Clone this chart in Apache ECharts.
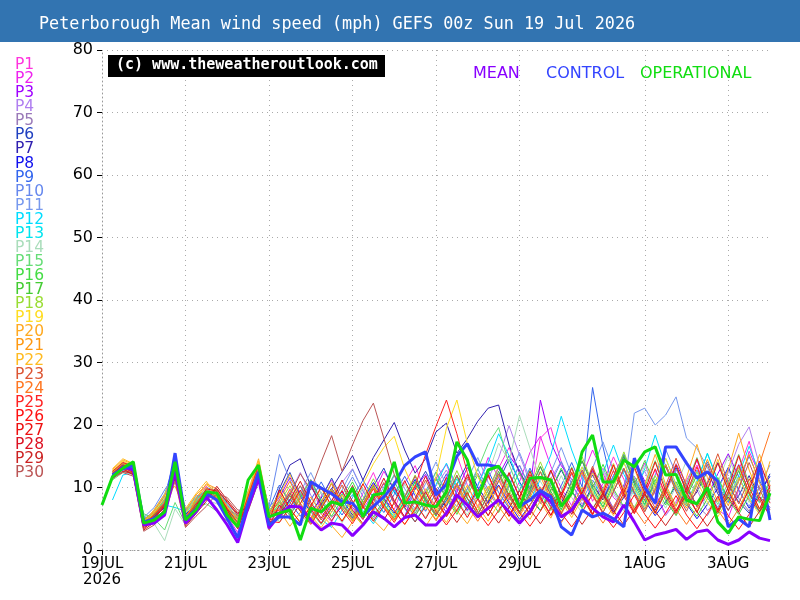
<!DOCTYPE html>
<html>

<head>
	<meta charset="UTF-8">
	<title>Peterborough Mean wind speed</title>
	<style>
		body {
			margin: 0;
		}
		#chart {
			width: 800px;
			height: 600px;
		}
	</style>
	<script src="https://cdn.jsdelivr.net/npm/echarts@6/dist/echarts.min.js"></script>
</head>

<body>
	<div id="chart"></div>
	<script>
		// 6-hourly steps from 19 Jul 00z, 65 steps (0..384h)
		var startDate = Date.UTC(2026, 6, 19, 0);
		var stepCount = 65;
		var monthNames = ['JAN', 'FEB', 'MAR', 'APR', 'MAY', 'JUN', 'JUL', 'AUG', 'SEP', 'OCT', 'NOV', 'DEC'];
		var times = [];
		for (var s = 0; s < stepCount; s++) {
			var d = new Date(startDate + s * 6 * 3600 * 1000);
			times.push(d.getUTCDate() + monthNames[d.getUTCMonth()] + ' ' + d.getUTCHours() + 'z');
		}

		// labelled ticks: [step index, label]
		var tickLabels = [
			[0, '19JUL\n2026'], [8, '21JUL'], [16, '23JUL'], [24, '25JUL'],
			[32, '27JUL'], [40, '29JUL'], [52, '1AUG'], [60, '3AUG']
		];

		var operational = [7.2, 11.7, 13.1, 14.1, 4.3, 4.8, 6.1, 14.1, 4.8, 6.4, 9.3, 9.1, 5.6, 3.7, 11.2, 13.6, 5.3,
			5.9, 6.4, 1.6, 6.7, 6.1, 7.7, 7.2, 9.9, 5.3, 8.8, 9.1, 14.1, 7.5, 7.7, 7.2, 6.9, 9.3, 17.3, 14.4, 8.3,
			12.8, 13.4, 10.9, 6.7, 11.5, 11.6, 11.2, 7.0, 9.1, 15.7, 18.4, 10.9, 10.9, 14.4, 13.3, 15.7, 16.5, 12.0,
			12.1, 8.0, 7.4, 10.0, 4.5, 2.7, 5.3, 4.9, 4.7, 9.1];

		var mean = [null, 11.7, 13.3, 12.8, 4.0, 4.3, 5.6, 12.6, 4.3, 6.1, 8.5, 6.4, 4.0, 1.2, 6.9, 11.5, 3.5,
			5.6, 7.0, 6.9, 4.8, 3.2, 4.3, 4.0, 2.3, 4.0, 6.1, 5.1, 3.7, 5.2, 5.6, 4.0, 4.0, 5.9, 8.8, 7.2, 5.3,
			6.7, 8.0, 6.1, 4.3, 6.1, 9.2, 7.7, 5.3, 6.4, 8.8, 6.7, 5.3, 4.5, 7.2, 4.5, 1.6, 2.4, 2.8, 3.3, 1.7,
			2.9, 3.2, 1.6, 0.9, 1.6, 2.9, 1.9, 1.5];

		var control = [null, 12.0, 13.0, 13.5, 4.5, 5.0, 6.0, 15.5, 5.0, 6.5, 9.0, 8.0, 5.0, 2.0, 7.5, 12.5, 4.0,
			5.3, 5.3, 4.0, 10.9, 9.9, 9.0, 7.7, 7.5, 5.5, 7.0, 8.5, 10.5, 13.5, 14.9, 15.7, 8.8, 10.5, 15.0, 17.0,
			13.6, 13.6, 13.3, 11.0, 7.0, 8.0, 9.5, 8.5, 3.7, 2.4, 6.4, 5.3, 5.9, 5.0, 3.7, 14.7, 10.0, 7.5, 16.5,
			16.5, 13.9, 11.5, 12.5, 11.0, 3.7, 5.0, 3.7, 13.9, 4.8];

		var P1 = [null, 12.5, 13.8, 13.2, 4.2, 5.5, 7.8, 13.4, 5.2, 7.4, 9.6, 8.1, 6.2, 3.4, 8.8, 12.9, 4.6,
			6.2, 9.8, 7.4, 5.1, 8.6, 11.2, 7.3, 5.4, 9.1, 12.4, 8.2, 6.5, 10.7, 13.5, 9.2, 7.1, 11.8, 15.2, 10.4, 6.8,
			9.5, 13.1, 16.4, 12.2, 8.7, 17.9, 19.6, 14.1, 9.3, 12.5, 7.8, 10.6, 14.9, 11.3, 6.4, 9.2, 12.8, 8.5, 5.7, 10.3,
			13.6, 9.4, 6.1, 8.8, 12.7, 17.4, 11.2, 7.6];
		var P2 = [null, 12.2, 14.0, 13.4, 4.0, 5.8, 8.2, 13.8, 4.9, 8.0, 10.2, 7.6, 5.4, 2.8, 9.2, 13.5, 5.8,
			7.9, 5.6, 8.3, 10.7, 6.2, 4.5, 7.8, 10.1, 6.6, 8.9, 12.6, 9.8, 7.2, 5.5, 8.1, 11.4, 13.7, 9.6, 6.3, 10.2,
			14.8, 11.5, 8.0, 10.9, 15.6, 18.2, 13.4, 9.9, 7.1, 11.8, 16.0, 12.3, 8.4, 6.9, 10.5, 13.9, 9.1, 5.8, 7.4, 11.1,
			14.3, 10.0, 6.5, 5.2, 9.6, 15.8, 12.0, 8.3];
		var P3 = [null, 11.8, 13.2, 12.6, 4.8, 5.2, 7.0, 12.4, 5.8, 7.2, 8.8, 9.2, 6.6, 4.4, 7.6, 12.8, 6.2,
			8.4, 11.6, 9.0, 6.1, 4.2, 7.5, 9.3, 6.8, 4.9, 8.2, 10.6, 7.7, 5.3, 9.9, 12.1, 8.6, 6.0, 9.4, 13.2, 10.1,
			7.4, 11.9, 15.1, 12.8, 9.2, 24.0, 17.2, 13.5, 11.3, 8.5, 12.7, 9.8, 6.6, 10.4, 14.6, 11.0, 7.3, 9.7, 13.8, 10.5,
			6.9, 8.6, 12.2, 15.4, 11.7, 8.0, 6.2, 9.5];
		var P4 = [null, 12.4, 13.6, 13.0, 4.4, 6.0, 8.0, 13.6, 5.0, 7.8, 9.8, 8.2, 5.8, 3.6, 8.2, 13.2, 5.0,
			6.5, 9.1, 12.4, 8.8, 5.7, 7.9, 10.8, 13.0, 9.5, 6.4, 8.7, 11.9, 8.3, 5.9, 7.6, 10.3, 12.8, 9.0, 6.2, 8.8,
			11.5, 14.7, 19.9, 15.2, 10.8, 8.1, 11.4, 14.2, 10.6, 7.3, 9.9, 13.1, 9.4, 6.7, 10.0, 12.6, 8.9, 5.5, 7.8, 11.2,
			9.6, 6.3, 8.1, 12.4, 16.9, 19.7, 13.5, 10.2];
		var P5 = [null, 12.0, 13.4, 12.8, 4.6, 5.0, 7.2, 12.8, 5.6, 7.0, 8.6, 9.0, 6.4, 4.8, 7.8, 12.4, 5.6,
			7.2, 6.0, 8.8, 11.3, 7.9, 5.2, 6.9, 9.4, 7.1, 5.0, 7.6, 10.2, 8.0, 6.3, 9.0, 11.7, 8.4, 6.1, 9.8, 12.3,
			9.1, 7.0, 10.4, 13.6, 9.9, 7.4, 10.9, 8.2, 5.8, 9.3, 12.5, 9.4, 6.7, 8.5, 11.8, 8.8, 6.0, 9.2, 12.9, 9.7,
			7.1, 5.5, 8.4, 11.6, 8.3, 6.2, 10.1, 7.5];
		var P6 = [null, 11.6, 13.0, 13.4, 5.0, 5.6, 7.6, 13.2, 5.4, 6.8, 8.4, 8.8, 6.8, 4.6, 7.2, 12.0, 6.0,
			9.2, 12.4, 8.6, 6.0, 8.3, 11.5, 8.1, 5.6, 7.4, 10.2, 13.1, 9.3, 6.8, 9.7, 12.6, 9.4, 7.0, 10.5, 13.8, 10.0,
			7.6, 11.0, 14.5, 10.9, 8.2, 6.3, 9.6, 12.8, 9.5, 6.9, 10.4, 8.0, 11.9, 15.3, 11.2, 8.4, 6.4, 9.8, 13.2, 9.9,
			7.2, 10.6, 14.0, 10.3, 7.7, 5.9, 9.0, 12.2];
		var P7 = [null, 12.2, 13.4, 12.4, 4.2, 5.4, 7.4, 12.6, 5.2, 7.6, 9.4, 8.6, 6.2, 4.2, 8.0, 12.6, 5.2,
			9.8, 13.6, 14.6, 10.2, 7.4, 9.8, 12.5, 15.1, 11.2, 14.8, 17.6, 20.4, 16.0, 12.3, 14.6, 18.9, 20.3, 15.5, 17.8, 20.6,
			22.7, 23.2, 16.8, 12.4, 9.7, 13.3, 10.1, 7.5, 10.9, 14.2, 10.6, 8.0, 11.3, 14.9, 11.0, 7.9, 10.5, 13.7, 9.8, 7.1,
			9.3, 12.6, 9.0, 6.4, 8.7, 11.9, 8.5, 6.8];
		var P8 = [null, 11.9, 13.1, 13.0, 4.6, 5.3, 6.8, 12.9, 5.7, 7.3, 8.9, 8.0, 5.6, 3.8, 7.9, 13.0, 6.4,
			5.8, 8.1, 6.4, 4.7, 7.2, 9.9, 7.3, 5.1, 8.0, 10.8, 8.2, 5.9, 8.6, 11.3, 8.1, 5.7, 7.9, 10.6, 7.6, 5.3,
			7.8, 10.4, 7.5, 4.9, 7.2, 9.8, 6.9, 4.6, 6.7, 9.3, 12.0, 8.8, 6.1, 8.4, 11.1, 7.9, 5.5, 7.7, 10.3, 7.4,
			5.0, 7.3, 9.9, 13.2, 9.6, 6.7, 9.1, 11.8];
		var P9 = [null, 12.6, 13.9, 13.6, 4.9, 6.2, 8.6, 14.8, 6.0, 8.2, 10.0, 9.4, 7.0, 5.0, 9.0, 13.8, 6.6,
			10.4, 7.6, 5.4, 8.0, 10.9, 7.8, 5.6, 8.4, 11.2, 8.3, 6.0, 8.9, 11.8, 8.7, 6.2, 9.1, 12.2, 8.9, 6.4, 9.5,
			12.7, 9.2, 6.7, 9.6, 13.1, 9.7, 7.0, 10.3, 14.0, 10.1, 26.0, 16.5, 9.4, 12.8, 9.3, 6.6, 9.9, 13.4, 10.2, 7.3,
			10.7, 14.1, 10.4, 7.6, 11.3, 15.0, 11.1, 8.0];
		var P10 = [null, 12.0, 12.8, 12.2, 5.2, 6.8, 9.6, 12.2, 6.4, 8.6, 9.4, 9.8, 7.4, 5.6, 9.4, 12.6, 7.0,
			15.3, 11.2, 8.2, 10.6, 8.0, 6.1, 8.8, 11.7, 8.6, 6.3, 9.0, 12.0, 8.9, 6.6, 9.4, 12.5, 9.2, 6.9, 9.8, 13.0,
			9.6, 7.2, 10.2, 13.5, 10.0, 7.5, 10.7, 14.1, 10.5, 7.9, 11.2, 8.4, 11.8, 15.2, 11.4, 8.5, 12.0, 16.1, 12.2, 9.0,
			12.8, 9.4, 6.8, 10.1, 13.7, 10.3, 7.7, 11.0];
		var P11 = [null, 11.4, 13.0, 12.8, 4.4, 6.4, 9.0, 13.0, 6.0, 8.0, 9.2, 9.0, 6.8, 4.6, 8.6, 13.4, 6.8,
			8.7, 6.4, 9.3, 12.4, 9.0, 6.7, 9.6, 12.9, 9.4, 7.0, 10.1, 13.5, 9.8, 7.3, 10.6, 14.1, 10.3, 7.7, 11.2, 14.8,
			10.8, 8.1, 11.8, 15.6, 11.4, 8.6, 12.4, 16.4, 12.0, 9.1, 13.1, 17.3, 12.7, 9.6, 21.9, 22.7, 20.0, 21.6, 24.5, 17.9,
			16.3, 13.2, 9.8, 12.9, 9.5, 7.0, 10.2, 13.6];
		var P12 = [null, 8.0, 12.0, 12.4, 5.0, 5.8, 7.2, 6.8, 6.2, 8.4, 8.8, 9.6, 7.2, 5.2, 8.8, 12.2, 6.8,
			5.1, 7.8, 10.2, 7.1, 4.9, 3.6, 6.4, 8.9, 6.3, 4.2, 6.9, 9.6, 6.6, 4.5, 7.4, 10.5, 13.9, 10.1, 7.2, 10.4,
			14.0, 18.6, 15.1, 10.7, 7.8, 11.3, 15.2, 21.4, 16.0, 11.6, 8.6, 12.3, 16.8, 12.1, 8.9, 13.0, 18.4, 13.4, 9.7, 7.1,
			10.8, 15.5, 11.2, 8.2, 11.9, 16.6, 12.2, 8.9];
		var P13 = [null, 11.8, 13.3, 12.9, 4.7, 5.9, 7.9, 12.7, 5.9, 7.7, 9.1, 8.7, 6.5, 4.3, 8.3, 12.9, 5.9,
			6.8, 9.2, 6.7, 4.8, 7.0, 9.7, 7.2, 5.0, 7.5, 10.2, 7.4, 5.3, 7.9, 10.8, 7.9, 5.6, 8.3, 11.4, 8.2, 5.8,
			8.7, 12.0, 8.6, 6.1, 9.1, 12.6, 9.0, 6.4, 9.6, 13.3, 9.5, 6.8, 10.1, 14.0, 10.0, 7.1, 10.6, 14.7, 10.5, 7.5,
			11.1, 15.4, 11.0, 7.9, 11.7, 8.4, 6.0, 9.0];
		var P14 = [null, 12.0, 12.6, 12.0, 5.6, 4.2, 1.5, 6.6, 4.0, 7.2, 8.0, 7.4, 5.6, 4.8, 7.0, 11.6, 5.4,
			8.1, 5.8, 3.9, 6.6, 9.3, 6.5, 4.4, 7.0, 9.9, 7.0, 4.8, 7.5, 10.6, 7.4, 5.2, 8.1, 11.3, 8.0, 5.6, 8.6,
			12.1, 17.1, 14.2, 21.5, 16.3, 11.0, 8.1, 11.9, 8.4, 5.9, 9.0, 12.7, 9.0, 6.3, 9.6, 13.5, 9.5, 6.7, 10.2, 14.3,
			10.1, 7.1, 10.8, 15.1, 10.7, 7.6, 11.4, 8.1];
		var P15 = [null, 11.2, 12.4, 12.8, 5.8, 5.0, 3.2, 7.6, 4.2, 6.8, 7.4, 6.2, 4.6, 5.6, 6.4, 11.0, 6.2,
			4.5, 6.9, 9.2, 6.2, 4.1, 6.6, 9.0, 6.1, 4.0, 6.4, 8.9, 12.1, 8.6, 5.9, 8.9, 12.5, 8.8, 6.0, 9.2, 12.9,
			17.0, 19.6, 13.7, 9.4, 12.8, 9.1, 6.3, 9.5, 13.3, 9.3, 6.5, 9.8, 13.8, 9.6, 6.8, 10.1, 14.3, 10.0, 7.0, 10.5,
			14.8, 10.3, 7.3, 10.8, 15.3, 10.7, 7.5, 11.2];
		var P16 = [null, 12.3, 13.7, 13.1, 4.5, 5.7, 7.7, 13.3, 5.3, 7.5, 9.3, 8.3, 6.0, 4.0, 8.1, 13.1, 5.7,
			7.7, 5.5, 8.4, 11.2, 7.8, 5.4, 8.1, 10.9, 7.6, 5.3, 8.0, 11.0, 7.7, 5.4, 8.2, 11.4, 8.1, 5.7, 8.7, 12.0,
			8.5, 6.0, 9.0, 12.5, 8.9, 6.3, 9.5, 13.1, 9.4, 6.6, 10.0, 13.7, 9.8, 6.9, 10.4, 14.3, 10.3, 7.2, 10.9, 7.7,
			5.4, 8.2, 11.6, 8.1, 5.7, 8.7, 12.3, 8.6];
		var P17 = [null, 12.1, 13.5, 12.7, 4.3, 5.5, 7.3, 12.5, 5.1, 7.1, 8.7, 8.5, 6.3, 4.1, 7.7, 12.7, 5.3,
			6.0, 8.7, 6.2, 4.3, 6.7, 9.5, 6.8, 4.7, 7.3, 10.3, 7.3, 5.0, 7.8, 11.0, 7.8, 5.4, 8.4, 11.8, 8.3, 5.7,
			8.9, 12.6, 8.8, 6.1, 9.5, 13.4, 9.4, 6.5, 10.1, 14.3, 10.0, 6.9, 10.7, 15.1, 10.6, 7.3, 11.3, 7.9, 5.5, 8.5,
			12.0, 8.4, 5.8, 9.0, 12.7, 8.9, 6.2, 9.6];
		var P18 = [null, 12.5, 13.9, 13.3, 4.1, 5.9, 8.1, 13.5, 4.8, 7.9, 9.7, 8.7, 5.7, 3.5, 8.7, 13.7, 5.1,
			7.5, 10.3, 7.2, 5.0, 7.7, 10.8, 7.6, 5.3, 8.1, 11.4, 8.0, 5.6, 8.6, 12.0, 8.5, 5.9, 9.0, 12.7, 9.0, 6.3,
			9.6, 13.4, 9.5, 6.6, 10.1, 14.1, 10.0, 7.0, 10.7, 14.9, 10.6, 7.4, 11.3, 15.7, 11.2, 7.8, 11.9, 8.3, 5.8, 8.9,
			12.5, 8.8, 6.1, 9.4, 13.2, 9.3, 6.5, 10.0];
		var P19 = [null, 12.7, 14.2, 13.5, 4.0, 6.1, 8.4, 12.1, 5.9, 8.3, 10.0, 8.9, 6.9, 4.5, 9.0, 13.9, 6.1,
			9.1, 6.5, 4.4, 7.0, 9.9, 6.9, 4.7, 7.3, 10.5, 13.8, 16.4, 18.2, 13.0, 9.2, 6.4, 11.7, 19.5, 24.0, 17.1, 11.8,
			8.3, 12.0, 8.4, 5.8, 8.9, 12.6, 8.8, 6.1, 9.5, 13.3, 9.3, 6.5, 10.0, 14.0, 9.8, 6.8, 10.5, 14.7, 10.4, 7.2,
			11.0, 7.7, 5.3, 8.2, 11.6, 8.1, 5.7, 8.7];
		var P20 = [null, 12.9, 14.4, 13.7, 4.6, 6.3, 8.8, 10.2, 6.2, 8.8, 10.4, 9.4, 7.1, 5.2, 9.4, 14.6, 6.4,
			6.3, 3.8, 6.0, 8.5, 5.8, 3.9, 2.0, 4.5, 7.1, 4.8, 3.1, 5.6, 8.3, 5.7, 3.8, 6.3, 9.2, 6.3, 4.2, 7.0,
			10.2, 7.0, 4.6, 7.8, 11.3, 7.7, 5.1, 8.6, 12.5, 8.6, 5.7, 9.5, 13.8, 9.5, 6.3, 10.5, 15.3, 10.5, 7.0, 11.6,
			16.9, 11.6, 7.7, 12.9, 18.7, 12.8, 8.5, 14.2];
		var P21 = [null, 12.0, 13.0, 12.6, 4.9, 6.0, 7.6, 11.6, 5.0, 8.2, 10.6, 9.8, 6.7, 4.9, 8.4, 12.0, 5.0,
			7.0, 9.6, 6.7, 4.5, 7.0, 9.8, 6.8, 4.6, 7.1, 10.0, 6.9, 4.7, 7.3, 10.3, 7.1, 4.9, 7.6, 10.7, 7.4, 5.1,
			8.0, 11.2, 7.8, 5.4, 8.4, 11.8, 8.2, 5.7, 8.9, 12.4, 8.6, 6.0, 9.3, 13.0, 9.1, 6.3, 9.8, 13.7, 9.6, 6.7,
			10.4, 14.5, 10.2, 7.1, 11.0, 15.3, 10.7, 7.5];
		var P22 = [null, 13.0, 14.6, 13.8, 4.3, 6.5, 8.9, 12.9, 6.6, 9.0, 11.0, 8.4, 6.1, 4.1, 8.9, 14.2, 5.5,
			8.8, 12.1, 8.2, 5.5, 3.6, 6.1, 8.8, 5.9, 3.9, 6.4, 9.3, 6.3, 4.1, 6.7, 9.8, 6.6, 4.4, 7.1, 10.4, 7.0,
			4.6, 7.5, 11.0, 7.4, 4.9, 7.9, 11.6, 7.8, 5.2, 8.3, 12.3, 8.3, 5.5, 8.8, 13.0, 8.7, 5.8, 9.3, 13.7, 9.2,
			6.1, 9.9, 14.5, 9.8, 6.5, 10.4, 15.3, 10.3];
		var P23 = [null, 11.6, 12.9, 12.3, 3.6, 4.6, 6.6, 12.3, 4.6, 6.4, 8.6, 9.6, 7.8, 5.4, 7.4, 12.4, 4.8,
			5.2, 7.4, 10.3, 7.1, 4.8, 7.3, 10.4, 7.2, 4.9, 7.5, 10.8, 7.4, 5.1, 7.8, 11.2, 7.7, 5.3, 8.1, 11.7, 8.0,
			5.5, 8.5, 12.2, 8.4, 5.8, 8.9, 12.8, 8.8, 6.1, 9.3, 13.4, 9.2, 6.4, 9.8, 14.0, 9.7, 6.7, 10.3, 14.7, 10.2,
			7.0, 10.8, 15.4, 10.7, 7.4, 11.4, 8.0, 5.5];
		var P24 = [null, 12.4, 13.8, 13.2, 4.4, 5.7, 7.7, 13.0, 5.4, 7.6, 9.5, 8.4, 6.1, 3.9, 8.4, 13.3, 5.6,
			8.0, 11.0, 7.5, 5.0, 7.6, 10.6, 7.3, 4.9, 7.5, 10.5, 7.2, 4.8, 7.4, 10.4, 7.1, 4.7, 7.3, 10.3, 7.0, 4.6,
			7.2, 10.2, 6.9, 4.5, 7.1, 10.1, 6.8, 4.4, 7.0, 10.0, 6.7, 4.3, 6.9, 9.9, 6.6, 4.2, 6.8, 9.8, 6.5, 4.1,
			6.7, 9.7, 6.4, 4.0, 6.6, 9.6, 13.8, 18.9];
		var P25 = [null, 12.6, 14.0, 13.4, 4.1, 5.6, 7.4, 13.2, 5.1, 7.3, 9.2, 8.0, 5.9, 3.7, 8.6, 13.6, 5.3,
			6.5, 9.1, 6.2, 4.1, 6.6, 9.4, 6.4, 4.2, 6.9, 9.8, 6.7, 4.4, 7.2, 10.2, 15.3, 19.8, 24.0, 18.6, 12.4, 8.3,
			11.9, 8.1, 5.4, 8.3, 12.1, 8.2, 5.5, 8.5, 12.4, 8.4, 5.6, 8.7, 12.7, 8.6, 5.8, 8.9, 13.0, 8.8, 5.9, 9.1,
			13.3, 9.0, 6.0, 9.3, 13.6, 9.2, 6.1, 9.5];
		var P26 = [null, 11.8, 13.2, 12.4, 3.8, 5.0, 7.0, 12.0, 4.4, 6.6, 9.0, 9.2, 6.6, 4.4, 7.2, 11.8, 4.6,
			4.4, 6.8, 9.6, 6.5, 4.3, 6.7, 9.5, 6.4, 4.2, 6.6, 9.4, 6.3, 4.1, 6.5, 9.3, 6.2, 4.0, 6.4, 9.2, 6.1,
			3.9, 6.3, 9.1, 6.0, 3.8, 6.2, 9.0, 5.9, 3.7, 6.1, 8.9, 5.8, 3.6, 6.0, 8.8, 5.7, 3.5, 5.9, 8.7, 5.6,
			3.4, 5.8, 8.6, 5.5, 3.3, 5.7, 8.5, 5.4];
		var P27 = [null, 12.2, 13.6, 12.8, 4.0, 5.2, 7.2, 12.2, 4.6, 7.0, 9.8, 9.4, 6.4, 3.4, 7.6, 12.6, 4.4,
			9.6, 6.6, 4.4, 7.0, 10.1, 7.0, 4.6, 7.3, 10.6, 7.3, 4.8, 7.6, 11.1, 7.6, 5.0, 7.9, 11.6, 7.9, 5.2, 8.2,
			12.1, 8.2, 5.4, 8.5, 12.6, 8.5, 5.6, 8.8, 13.1, 8.8, 5.8, 9.1, 13.6, 9.1, 6.0, 9.4, 14.1, 9.4, 6.2, 9.7,
			14.6, 9.7, 6.4, 10.0, 15.1, 10.0, 6.6, 10.3];
		var P28 = [null, 11.4, 12.6, 12.2, 3.4, 4.8, 6.4, 11.8, 4.2, 6.2, 8.2, 9.8, 7.6, 5.8, 7.0, 12.2, 4.2,
			5.6, 8.0, 11.0, 7.6, 5.1, 7.8, 11.2, 7.7, 5.2, 8.0, 11.5, 7.9, 5.3, 8.2, 11.8, 8.1, 5.4, 8.4, 12.1, 8.3,
			5.5, 8.6, 12.4, 8.5, 5.6, 8.8, 12.7, 8.7, 5.7, 9.0, 13.0, 8.9, 5.8, 9.2, 13.3, 9.1, 5.9, 9.4, 13.6, 9.3,
			6.0, 9.6, 13.9, 9.5, 6.1, 9.8, 14.2, 9.7];
		var P29 = [null, 12.0, 13.0, 12.0, 3.2, 4.4, 6.2, 11.4, 3.8, 5.8, 7.8, 10.2, 8.0, 6.0, 6.6, 11.4, 3.8,
			7.2, 4.9, 7.4, 10.5, 7.1, 4.7, 7.2, 10.3, 6.9, 4.6, 7.1, 10.1, 6.8, 4.5, 7.0, 9.9, 6.7, 4.4, 6.9, 9.7,
			6.6, 4.3, 6.8, 9.5, 6.5, 4.2, 6.7, 9.3, 6.4, 4.1, 6.6, 9.1, 6.3, 4.0, 6.5, 8.9, 6.2, 3.9, 6.4, 8.7,
			6.1, 3.8, 6.3, 8.5, 6.0, 3.7, 6.2, 8.3];
		var P30 = [null, 11.6, 12.4, 11.8, 3.0, 4.0, 5.8, 11.0, 3.6, 5.4, 7.0, 9.0, 8.4, 6.4, 6.2, 11.0, 3.2,
			6.1, 8.8, 12.2, 9.6, 14.1, 18.3, 12.6, 16.8, 20.7, 23.5, 17.9, 12.1, 8.4, 11.8, 8.2, 5.6, 8.5, 12.0, 8.3, 5.7,
			8.7, 12.2, 8.5, 5.8, 8.9, 12.5, 8.7, 5.9, 9.1, 12.8, 8.9, 6.0, 9.3, 13.1, 9.1, 6.1, 9.5, 13.4, 9.3, 6.2,
			9.7, 13.7, 9.5, 6.3, 9.9, 14.0, 9.7, 6.4];

		var members = [P1, P2, P3, P4, P5, P6, P7, P8, P9, P10, P11, P12, P13, P14, P15,
			P16, P17, P18, P19, P20, P21, P22, P23, P24, P25, P26, P27, P28, P29, P30];
		var memberColors = ['#ff33dd', '#ee22ee', '#a000ff', '#b07ff0', '#9a7ab8', '#2040c0', '#3020b0', '#1010ee',
			'#3366ee', '#6688ee', '#7799ee', '#00ddff', '#00e4ee', '#aaddbb', '#66dd77', '#44dd44', '#44cc33',
			'#99dd33', '#ffdd22', '#ffaa22', '#ff9911', '#ffbb22', '#dd5533', '#ff7722', '#ff2222', '#ff1111',
			'#ee1111', '#dd1122', '#cc2222', '#bb5555'];

		var tickIdx = tickLabels.map(function (t) { return t[0]; });
		function isTick(index) {
			return tickIdx.indexOf(index) >= 0;
		}
		function tickText(value, index) {
			for (var k = 0; k < tickLabels.length; k++) {
				if (tickLabels[k][0] === index) return tickLabels[k][1];
			}
			return '';
		}

		var series = [];
		var memberLegend = [];
		members.forEach(function (m, k) {
			var name = 'P' + (k + 1);
			series.push({
				name: name,
				type: 'line',
				data: m,
				symbol: 'none',
				lineStyle: { width: 1, color: memberColors[k] },
				itemStyle: { color: memberColors[k] },
				z: 2
			});
			memberLegend.push({ name: name, textStyle: { color: memberColors[k] } });
		});
		series.push({
			name: 'MEAN', type: 'line', data: mean, symbol: 'none', z: 3,
			lineStyle: { width: 3, color: '#8800ff' }, itemStyle: { color: '#8800ff' }
		});
		series.push({
			name: 'CONTROL', type: 'line', data: control, symbol: 'none', z: 4,
			lineStyle: { width: 3, color: '#3344ff' }, itemStyle: { color: '#3344ff' }
		});
		series.push({
			name: 'OPERATIONAL', type: 'line', data: operational, symbol: 'none', z: 5,
			lineStyle: { width: 3, color: '#11dd11' }, itemStyle: { color: '#11dd11' }
		});

		// one small legend per main series so each word sits where the original puts it
		function mainLegend(name, color, left) {
			return {
				orient: 'horizontal',
				left: left,
				top: 61,
				icon: 'rect',
				itemWidth: 0,
				itemHeight: 14,
				selectedMode: false,
				textStyle: { fontSize: 16 },
				data: [{ name: name, textStyle: { color: color } }]
			};
		}

		var myChart = echarts.init(document.getElementById('chart'));
		myChart.setOption({
			animation: false,
			backgroundColor: '#fff',
			textStyle: { fontFamily: 'DejaVu Sans' },
			title: {
				text: 'Peterborough Mean wind speed (mph) GEFS 00z Sun 19 Jul 2026',
				left: 34,
				top: 11,
				textStyle: {
					color: '#fff',
					fontFamily: 'DejaVu Sans Mono',
					fontWeight: 'normal',
					fontSize: 16.8
				}
			},
			graphic: [
				{
					type: 'rect', left: 0, top: 0, z: -1,
					shape: { width: 800, height: 42 },
					style: { fill: '#3274b1' }
				},
				{
					type: 'rect', left: 108, top: 55, z: 10,
					shape: { width: 277, height: 22 },
					style: { fill: '#000' }
				},
				{
					type: 'text', left: 116, top: 58, z: 11,
					style: {
						text: '(c) www.theweatheroutlook.com',
						fill: '#fff',
						font: 'bold 15px DejaVu Sans Mono'
					}
				}
			],
			legend: [
				{
					orient: 'vertical',
					left: 5,
					top: 52,
					icon: 'rect',
					itemWidth: 0,
					itemHeight: 14,
					itemGap: -1.93,
					selectedMode: false,
					textStyle: { fontSize: 15.5, lineHeight: 14, padding: 0 },
					data: memberLegend
				},
				mainLegend('MEAN', '#8800ff', 463),
				mainLegend('CONTROL', '#3344ff', 536),
				mainLegend('OPERATIONAL', '#11dd11', 630)
			],
			grid: {
				left: 102,
				right: 30,
				top: 50,
				bottom: 50
			},
			xAxis: {
				type: 'category',
				boundaryGap: false,
				data: times,
				axisLine: { lineStyle: { color: '#999', type: [1, 3] } },
				axisTick: {
					interval: function (index) { return isTick(index); },
					length: 5,
					lineStyle: { color: '#000' }
				},
				axisLabel: {
					interval: function (index) { return isTick(index); },
					formatter: tickText,
					color: '#000',
					fontSize: 15,
					lineHeight: 16,
					margin: 6
				},
				splitLine: {
					show: true,
					interval: function (index) { return isTick(index) && index > 0; },
					lineStyle: { color: '#aaa', type: [1, 4] }
				}
			},
			yAxis: {
				type: 'value',
				min: 0,
				max: 80,
				interval: 10,
				axisLine: { show: true, lineStyle: { color: '#999', type: [1, 3] } },
				axisTick: { show: true, length: 5, lineStyle: { color: '#000' } },
				axisLabel: { color: '#000', fontSize: 16, margin: 9 },
				splitLine: { lineStyle: { color: '#aaa', type: [1, 4] } }
			},
			series: series
		});
	</script>
</body>

</html>
